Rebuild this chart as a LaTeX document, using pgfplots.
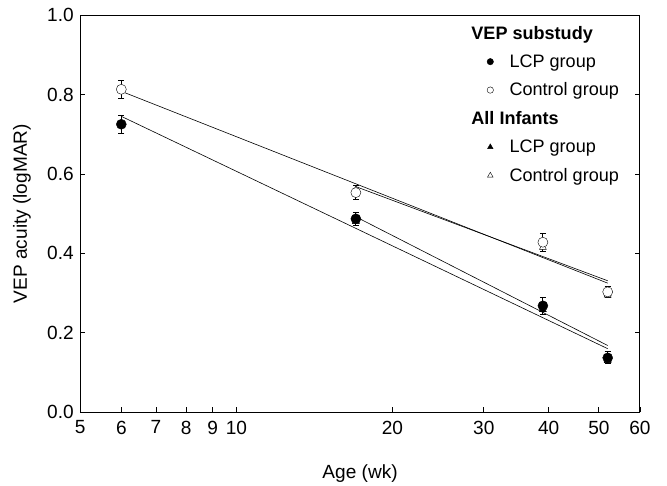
\documentclass[border=0pt]{standalone}
\usepackage{fontspec}
\setmainfont{Liberation Sans}
\usepackage{pgfplots}
\pgfplotsset{compat=1.18}
\begin{document}
\begin{tikzpicture}
\begin{axis}[
  scale only axis,
  width=558pt, height=396pt,
  xmode=log, xmin=5, xmax=60,
  ymin=0, ymax=1.0,
  xtick={5,6,7,8,9,10,20,30,40,50,60},
  xticklabels={5,6,7,8,9,10,20,30,40,50,60},
  minor xtick={},
  ytick={0,0.2,0.4,0.6,0.8,1.0},
  yticklabel style={/pgf/number format/fixed,/pgf/number format/fixed zerofill,/pgf/number format/precision=1, xshift=-3pt},
  xticklabel style={yshift=-5pt},
  /pgf/number format/assume math mode=true,
  tick align=inside,
  xtick pos=bottom, ytick pos=both,
  major tick length=5pt,
  tick style={black, line width=0.8pt},
  axis line style={line width=0.9pt},
  ticklabel style={font=\fontsize{19}{22}\selectfont},
  label style={font=\fontsize{19}{22}\selectfont},
  xlabel={Age (wk)},
  ylabel={VEP acuity (logMAR)},
  xlabel style={at={(rel axis cs:0.5,-0.154)}, anchor=center},
  ylabel style={at={(rel axis cs:-0.104,0.5)}, anchor=center},
  legend style={draw=none, fill=none, inner sep=0pt, at={(rel axis cs:0.717,0.978)}, anchor=north west,
    font=\fontsize{18}{21}\selectfont, row sep=10pt, column sep=14pt, cells={anchor=west}},
  legend cell align=left,
]
% regression lines
\addplot[black, line width=0.6pt, forget plot] coordinates {(6,0.745) (52,0.160)};
\addplot[black, line width=0.6pt, forget plot] coordinates {(6,0.808) (52,0.325)};
\addplot[black, line width=0.6pt, forget plot] coordinates {(17,0.492) (52,0.168)};
\addplot[black, line width=0.6pt, forget plot] coordinates {(17,0.568) (52,0.331)};
% All infants triangles
\addplot[only marks, mark=triangle*, mark size=4pt, black, forget plot] coordinates {(17,0.480) (39,0.258) (52,0.130)};
\addplot[only marks, mark=triangle*, mark size=4pt, black, mark options={fill=white}, forget plot] coordinates {(17,0.560) (39,0.415) (52,0.295)};
% VEP substudy circles with error bars
\addplot[only marks, mark=*, mark size=5pt, black, forget plot,
  error bars/.cd, y dir=both, y explicit, error mark options={rotate=90, mark size=3pt, line width=0.8pt}, error bar style={line width=0.8pt}]
  coordinates {(6,0.725) +- (0,0.022) (17,0.487) +- (0,0.016) (39,0.268) +- (0,0.022) (52,0.137) +- (0,0.015)};
\addplot[only marks, mark=*, mark size=5pt, black, mark options={fill=white}, forget plot,
  error bars/.cd, y dir=both, y explicit, error mark options={rotate=90, mark size=3pt, line width=0.8pt}, error bar style={line width=0.8pt}]
  coordinates {(6,0.813) +- (0,0.022) (17,0.553) +- (0,0.018) (39,0.428) +- (0,0.022) (52,0.303) +- (0,0.015)};
% legend
\addlegendimage{empty legend}
\addlegendentry{\hspace{-38pt}\textbf{VEP substudy}}
\addlegendimage{only marks, mark=*, mark size=3.2pt, black}
\addlegendentry{LCP group}
\addlegendimage{only marks, mark=o, mark size=3.2pt, black}
\addlegendentry{Control group}
\addlegendimage{empty legend}
\addlegendentry{\hspace{-38pt}\textbf{All Infants}}
\addlegendimage{only marks, mark=triangle*, mark size=3.2pt, black}
\addlegendentry{LCP group}
\addlegendimage{only marks, mark=triangle, mark size=3.2pt, black}
\addlegendentry{Control group}
\end{axis}
\pgfresetboundingbox
\path ([shift={(-80pt,-73pt)}]current axis.south west) rectangle ([shift={(27pt,15pt)}]current axis.north east);
\end{tikzpicture}
\end{document}
